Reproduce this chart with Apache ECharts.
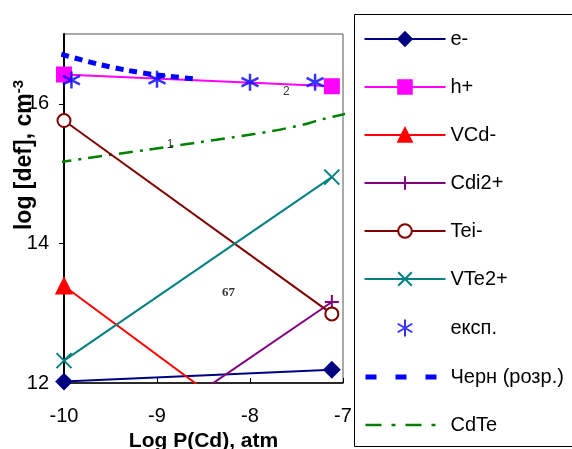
<!DOCTYPE html>
<html>
<head>
<meta charset="utf-8">
<script src="https://cdn.jsdelivr.net/npm/echarts@6/dist/echarts.min.js"></script>
<style>
    html, body { margin: 0; padding: 0; background: #fff; }
    #chart { width: 572px; height: 449px; }
</style>
</head>
<body>
<div id="chart"></div>
<script>
// data
const xEnds = [-10, -7.12];
const eMinus = [12.02, 12.19];
const hPlus = [16.42, 16.25];
const vCd = [13.39, 10.55];
const cdi2 = [10.54, 13.16];
const teiMinus = [15.76, 12.99];
const vTe2 = [12.32, 14.95];

const expX = [-9.92, -9.0, -8.0, -7.3];
const expY = [16.34, 16.35, 16.31, 16.31];

const chernX = [-10.03, -9.64, -9.32, -9.04, -8.55];
const chernY = [16.71, 16.57, 16.48, 16.42, 16.35];

const cdteX = [-10.07, -9.76, -9.11, -8.54, -8.18, -7.76, -7.40, -7.25, -6.92];
const cdteY = [15.16, 15.22, 15.34, 15.45, 15.52, 15.61, 15.71, 15.77, 15.87];

const yTicks = [12, 14, 16];

const notes = [
    { x: -8.86, y: 15.42, text: '1', bold: false },
    { x: -7.61, y: 16.18, text: '2', bold: false },
    { x: -8.23, y: 13.30, text: '67', bold: true }
];

const FONT = '"Liberation Sans", Arial, sans-serif';

const zip = (xs, ys) => xs.map((x, i) => [x, ys[i]]);

// stroke-only markers
const PLUS = 'path://M5,0L5,10M0,5L10,5';
const CROSS = 'path://M0,0L10,10M0,10L10,0';
const STAR = 'path://M5,0L5,10M0.7,2.5L9.3,7.5M0.7,7.5L9.3,2.5';

const lineSeries = (name, color, data, symbol, size, extra) => Object.assign({
    name,
    type: 'line',
    data,
    symbol,
    symbolSize: size,
    showSymbol: true,
    clip: true,
    lineStyle: { color, width: 2 },
    itemStyle: { color, borderColor: color, borderWidth: 2 },
    emphasis: { disabled: true },
    z: 3
}, extra || {});

const chart = echarts.init(document.getElementById('chart'), null, { renderer: 'canvas' });

chart.setOption({
    animation: false,
    backgroundColor: '#fff',
    textStyle: { fontFamily: FONT },
    grid: {
        left: 64,
        right: 229,
        top: 34,
        bottom: 66,
        outerBoundsMode: 'none',
        containLabel: false,
        show: true,
        borderColor: '#555',
        borderWidth: 1
    },
    xAxis: {
        type: 'value',
        min: -10,
        max: -7,
        interval: 1,
        name: 'Log P(Cd), atm',
        nameLocation: 'middle',
        nameGap: 47,
        nameTextStyle: { fontSize: 21, fontWeight: 'bold', color: '#000', fontFamily: FONT },
        axisLine: { lineStyle: { color: '#000', width: 1.5 } },
        axisTick: { inside: true, length: 5, lineStyle: { color: '#000' } },
        axisLabel: { fontSize: 20, color: '#000', margin: 23, fontFamily: FONT },
        splitLine: { show: false }
    },
    yAxis: {
        type: 'value',
        min: 12,
        max: 17,
        axisLine: { onZero: false, lineStyle: { color: '#000', width: 2 } },
        axisTick: { customValues: yTicks, length: 5, lineStyle: { color: '#000' } },
        axisLabel: { customValues: yTicks, fontSize: 20, color: '#000', margin: 15, fontFamily: FONT },
        splitLine: { show: false }
    },
    legend: {
        left: 362,
        top: 29,
        orient: 'vertical',
        padding: 0,
        itemWidth: 81,
        itemHeight: 17,
        itemGap: 28,
        z: 20,
        textStyle: { fontSize: 20, color: '#000', fontFamily: FONT },
        data: [
            'e-', 'h+', 'VCd-', 'Cdi2+', 'Tei-', 'VTe2+', 'експ.',
            { name: 'Черн (розр.)', lineStyle: { width: 5, type: [11, 19], dashOffset: -1 } },
            { name: 'CdTe', lineStyle: { width: 2.5, type: [16, 10, 4, 10] } }
        ]
    },
    graphic: [
        {
            type: 'rect',
            z: 10,
            shape: { x: 354.5, y: 14.5, width: 230, height: 432 },
            style: { fill: '#fff', stroke: '#000', lineWidth: 1 }
        },
        {
            type: 'text',
            x: 25,
            y: 155,
            rotation: Math.PI / 2,
            style: {
                text: 'log [def], cm{sup|-3}',
                font: 'bold 23px ' + FONT,
                fill: '#000',
                align: 'center',
                verticalAlign: 'middle',
                rich: {
                    sup: { font: 'bold 15px ' + FONT, fill: '#000', verticalAlign: 'top', padding: [0, 0, 12, 0] }
                }
            }
        }
    ],
    series: [
        lineSeries('e-', '#000080', zip(xEnds, eMinus), 'diamond', 15),
        lineSeries('h+', '#FF00FF', zip(xEnds, hPlus), 'rect', 14),
        lineSeries('VCd-', '#FF0000', zip(xEnds, vCd), 'triangle', 15),
        lineSeries('Cdi2+', '#800080', zip(xEnds, cdi2), PLUS, 14, {
            itemStyle: { color: 'none', borderColor: '#800080', borderWidth: 2 }
        }),
        lineSeries('Tei-', '#800000', zip(xEnds, teiMinus), 'emptyCircle', 13, {
            itemStyle: { color: '#800000', borderColor: '#800000', borderWidth: 2 }
        }),
        lineSeries('VTe2+', '#008080', zip(xEnds, vTe2), CROSS, 15, {
            itemStyle: { color: 'none', borderColor: '#008080', borderWidth: 2 }
        }),
        {
            name: 'експ.',
            type: 'scatter',
            data: zip(expX, expY),
            symbol: STAR,
            symbolSize: 17,
            itemStyle: { color: 'none', borderColor: '#0000FF', borderWidth: 2.5 },
            emphasis: { disabled: true },
            z: 5
        },
        lineSeries('Черн (розр.)', '#0000FF', zip(chernX, chernY), 'none', 0, {
            clip: false,
            smooth: 0.3,
            lineStyle: { color: '#0000FF', width: 5, type: [8, 6] },
            itemStyle: { color: '#0000FF', opacity: 0 },
            z: 4
        }),
        lineSeries('CdTe', '#008000', zip(cdteX, cdteY), 'none', 0, {
            clip: false,
            smooth: 0.3,
            lineStyle: { color: '#008000', width: 2.5, type: [14, 7, 3, 7] },
            itemStyle: { color: '#008000', opacity: 0 },
            z: 2
        }),
        {
            name: 'notes',
            type: 'scatter',
            data: notes.map(n => ({ value: [n.x, n.y], text: n.text, bold: n.bold })),
            symbolSize: 0,
            silent: true,
            label: {
                show: true,
                position: 'inside',
                formatter: p => p.data.bold ? '{b|' + p.data.text + '}' : p.data.text,
                fontSize: 12,
                color: '#000',
                fontFamily: FONT,
                rich: {
                    b: { fontSize: 13, fontWeight: 'bold', fontFamily: '"Liberation Serif", "DejaVu Serif", serif', color: '#000' }
                }
            },
            z: 6
        }
    ]
});
</script>
</body>
</html>
